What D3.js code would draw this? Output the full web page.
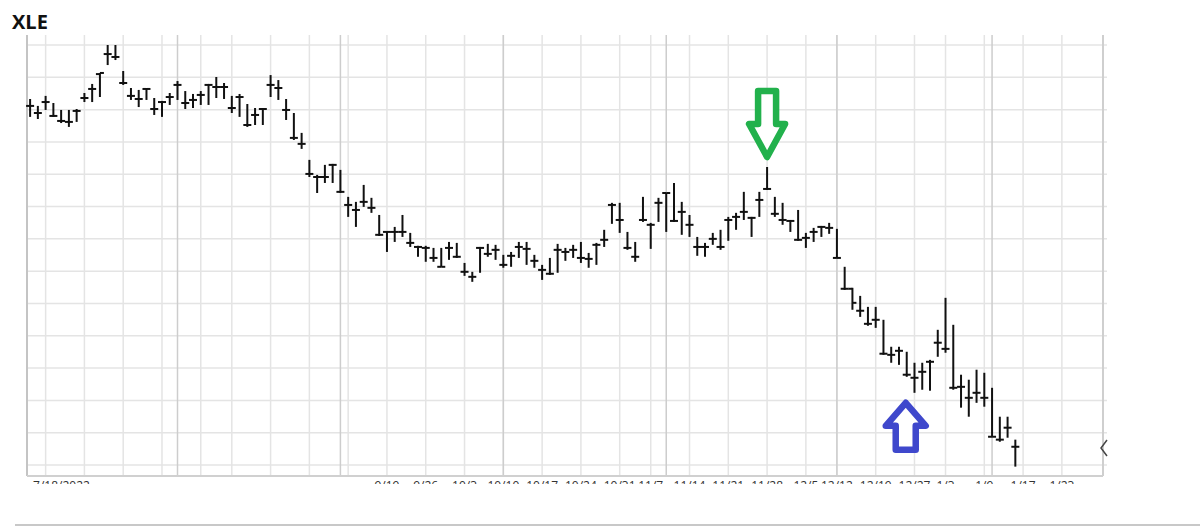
<!DOCTYPE html>
<html lang="en">
<head>
<meta charset="UTF-8">
<title>XLE</title>
<script src="https://d3js.org/d3.v7.min.js"></script>
<style>
  body { margin: 0; background: #fff; }
  svg { display: block; }
</style>
</head>
<body>
<svg width="1200" height="527"></svg>
<script>
// daily OHLC bars
var highs = [90.66, 90.23, 90.85, 90.41, 89.98, 89.98, 90.04, 91.03, 91.59, 92.27,
  94.00, 94.00, 92.39, 91.34, 91.22, 91.34, 90.72, 90.54, 91.03, 91.77,
  91.15, 90.97, 91.15, 91.59, 92.02, 91.65, 90.85, 90.97, 90.35, 90.10,
  90.10, 92.14, 91.83, 90.66, 89.79, 88.56, 86.89, 85.96, 86.58, 86.64,
  86.27, 84.60, 84.29, 85.34, 84.54, 83.48, 82.43, 82.74, 83.48, 82.37,
  81.57, 81.57, 81.44, 81.44, 81.81, 81.75, 80.51, 79.96, 81.50, 81.69,
  81.63, 81.01, 81.19, 81.81, 81.81, 81.01, 80.39, 80.82, 81.69, 81.44,
  81.63, 81.81, 81.13, 81.75, 82.56, 84.23, 84.23, 82.43, 81.81, 84.60,
  82.99, 84.54, 84.84, 85.46, 84.29, 83.48, 82.12, 81.75, 82.37, 82.56,
  83.36, 83.61, 84.91, 83.36, 84.91, 86.45, 84.60, 84.23, 83.17, 83.79,
  82.37, 82.68, 82.80, 82.99, 82.62, 80.27, 78.97, 78.47, 77.79, 77.79,
  76.99, 75.32, 75.32, 75.01, 74.33, 74.33, 74.51, 76.37, 78.35, 76.68,
  73.59, 73.28, 73.90, 73.71, 72.78, 70.99, 70.99, 69.57];
var lows = [89.55, 89.42, 89.98, 89.55, 89.17, 88.93, 89.24, 90.47, 90.47, 90.78,
  92.76, 93.07, 91.53, 90.60, 90.16, 90.60, 89.67, 89.55, 90.29, 90.60,
  90.04, 90.10, 90.29, 90.29, 90.72, 90.66, 89.79, 89.55, 88.93, 89.05,
  89.05, 90.78, 90.60, 89.36, 88.12, 87.57, 85.83, 84.84, 85.46, 85.46,
  84.84, 83.36, 82.74, 83.98, 83.61, 82.18, 81.19, 81.81, 82.12, 81.50,
  80.89, 80.58, 80.58, 80.27, 80.70, 80.82, 79.71, 79.34, 79.90, 80.89,
  80.70, 80.21, 80.27, 80.82, 80.39, 80.21, 79.46, 79.77, 79.90, 80.64,
  80.82, 80.51, 80.21, 80.39, 81.50, 82.93, 82.37, 81.32, 80.58, 83.05,
  81.38, 83.05, 82.43, 83.05, 82.25, 82.12, 80.95, 80.89, 81.63, 81.32,
  81.88, 82.56, 83.17, 82.12, 83.36, 85.03, 83.36, 82.87, 82.43, 81.88,
  81.44, 81.81, 82.12, 82.31, 80.82, 78.84, 77.61, 77.17, 76.62, 76.49,
  74.82, 74.33, 74.20, 73.46, 72.47, 72.66, 72.60, 74.70, 74.95, 72.66,
  71.55, 70.99, 71.85, 71.61, 69.75, 69.44, 69.69, 67.90];
var opens = [90.23, 89.79, 90.47, 89.61, 89.30, 89.24, 89.92, 90.72, 91.28, 92.20,
  93.44, 93.26, 91.65, 90.85, 90.66, 91.28, 90.04, 90.47, 90.78, 91.53,
  90.41, 90.60, 90.91, 91.53, 91.40, 91.40, 90.10, 90.78, 89.05, 89.67,
  90.04, 91.53, 91.34, 89.98, 88.25, 87.88, 86.02, 85.83, 85.83, 86.58,
  84.91, 84.10, 83.79, 84.29, 83.92, 82.25, 82.43, 82.43, 82.43, 81.75,
  81.50, 81.44, 80.82, 80.27, 81.44, 80.89, 79.96, 79.65, 81.44, 81.07,
  81.32, 80.39, 80.95, 81.50, 81.38, 80.64, 80.08, 79.84, 81.32, 81.19,
  81.32, 80.82, 80.76, 81.63, 81.94, 84.10, 83.17, 81.44, 80.89, 83.17,
  82.87, 84.23, 84.84, 83.11, 83.67, 82.87, 81.50, 81.50, 82.00, 81.50,
  83.17, 83.36, 83.67, 83.30, 84.41, 85.09, 83.55, 83.17, 83.11, 81.94,
  82.06, 82.43, 82.74, 82.68, 80.82, 78.91, 78.91, 77.55, 76.74, 76.99,
  74.89, 74.82, 75.07, 73.59, 73.40, 73.77, 74.39, 75.57, 75.19, 72.78,
  72.84, 72.16, 72.47, 72.16, 69.75, 69.57, 70.31, 69.13];
var closes = [90.23, 89.79, 90.47, 89.61, 89.30, 89.24, 89.92, 90.72, 91.28, 92.27,
  93.44, 93.26, 91.65, 90.85, 90.66, 91.28, 90.04, 90.47, 90.78, 91.53,
  90.41, 90.60, 90.91, 91.53, 91.40, 91.40, 90.10, 90.78, 89.05, 89.67,
  90.04, 91.53, 91.34, 89.98, 88.25, 87.88, 86.02, 85.83, 85.83, 86.58,
  84.91, 84.10, 83.79, 84.29, 83.92, 82.25, 82.43, 82.43, 82.43, 81.75,
  81.50, 81.44, 80.82, 80.27, 81.44, 80.89, 79.96, 79.65, 81.44, 81.07,
  81.32, 80.39, 80.95, 81.50, 81.38, 80.64, 80.08, 79.84, 81.32, 81.19,
  81.32, 80.82, 80.76, 81.63, 81.94, 84.10, 83.17, 81.44, 80.89, 83.17,
  82.87, 84.23, 84.84, 83.11, 83.67, 82.87, 81.50, 81.50, 82.00, 81.50,
  83.17, 83.36, 83.67, 83.30, 84.41, 85.09, 83.55, 83.17, 83.11, 81.94,
  82.06, 82.43, 82.74, 82.68, 80.82, 78.91, 78.04, 77.55, 76.74, 76.99,
  74.89, 74.82, 75.07, 73.59, 73.40, 73.77, 74.39, 75.57, 75.19, 72.78,
  72.84, 72.16, 72.47, 72.16, 69.75, 69.57, 70.31, 69.13];

// grid: price lines, weekly lines, darker month lines (bar index)
var priceTicks = d3.range(68, 95, 2);
var weekLines = [2, 7, 12, 17, 22, 26, 31, 36, 41, 46, 51, 56, 61, 66, 71, 76, 80,
  85, 90, 95, 100, 104, 109, 114, 118, 123, 128, 133];
var monthLines = [19, 40, 61, 82, 104, 124];

// date labels under the plot (cut off in the screenshot)
var labelBars = [0, 46, 51, 56, 61, 66, 71, 76, 80, 85, 90, 95, 100, 104, 109, 114, 118, 123, 128, 133];
var labelText = ["7/18/2022", "9/19", "9/26", "10/3", "10/10", "10/17", "10/24",
  "10/31", "11/7", "11/14", "11/21", "11/28", "12/5", "12/12", "12/19",
  "12/27", "1/3", "1/9", "1/17", "1/23"];

var data = highs.map(function (h, i) {
  return { i: i, high: h, low: lows[i], open: opens[i], close: closes[i] };
});

var svg = d3.select("svg");

var plotLeft = 27, plotRight = 1103, plotTop = 35, plotBottom = 476;
var x = d3.scaleLinear().domain([-0.4, 138.3]).range([plotLeft, plotRight]);
var y = d3.scaleLinear().domain([67.32, 94.62]).range([plotBottom, plotTop]);

svg.append("rect").attr("width", 1200).attr("height", 527).attr("fill", "#fff");

// title
svg.append("text")
  .attr("x", 12).attr("y", 29)
  .attr("font-family", "'Open Sans', 'Noto Sans', sans-serif")
  .attr("font-weight", "bold")
  .attr("font-size", "20px")
  .attr("fill", "#111")
  .text("XLE");

// horizontal grid
var grid = svg.append("g");
grid.selectAll(".hline")
  .data(priceTicks)
  .enter().append("line")
  .attr("x1", plotLeft).attr("x2", plotRight + 4)
  .attr("y1", function (d) { return y(d); })
  .attr("y2", function (d) { return y(d); })
  .attr("stroke", "#e4e4e4")
  .attr("stroke-width", 1.5);

// weekly grid
grid.selectAll(".wline")
  .data(weekLines)
  .enter().append("line")
  .attr("x1", function (d) { return x(d); })
  .attr("x2", function (d) { return x(d); })
  .attr("y1", plotTop).attr("y2", plotBottom)
  .attr("stroke", "#e4e4e4")
  .attr("stroke-width", 1.5);

// month grid
grid.selectAll(".mline")
  .data(monthLines)
  .enter().append("line")
  .attr("x1", function (d) { return x(d); })
  .attr("x2", function (d) { return x(d); })
  .attr("y1", plotTop).attr("y2", plotBottom)
  .attr("stroke", "#cdcdcd")
  .attr("stroke-width", 1.5);

// frame
svg.append("line").attr("x1", plotLeft).attr("x2", plotLeft).attr("y1", plotTop).attr("y2", plotBottom)
  .attr("stroke", "#c4c4c4").attr("stroke-width", 2);
svg.append("line").attr("x1", plotRight).attr("x2", plotRight).attr("y1", plotTop).attr("y2", plotBottom)
  .attr("stroke", "#cfcfcf").attr("stroke-width", 2);
svg.append("line").attr("x1", plotLeft).attr("x2", plotRight).attr("y1", plotBottom).attr("y2", plotBottom)
  .attr("stroke", "#d0d0d0").attr("stroke-width", 2);

// bars
var bars = svg.append("g")
  .attr("stroke", "#111")
  .attr("stroke-width", 2)
  .selectAll("g")
  .data(data)
  .enter().append("g");

bars.append("line")
  .attr("x1", function (d) { return x(d.i); })
  .attr("x2", function (d) { return x(d.i); })
  .attr("y1", function (d) { return y(d.high); })
  .attr("y2", function (d) { return y(d.low); });

bars.append("line")
  .attr("x1", function (d) { return x(d.i) - 4; })
  .attr("x2", function (d) { return x(d.i); })
  .attr("y1", function (d) { return y(d.open); })
  .attr("y2", function (d) { return y(d.open); });

bars.append("line")
  .attr("x1", function (d) { return x(d.i); })
  .attr("x2", function (d) { return x(d.i) + 4; })
  .attr("y1", function (d) { return y(d.close); })
  .attr("y2", function (d) { return y(d.close); });

// date labels, cut off by the screenshot edge
svg.append("clipPath").attr("id", "cut")
  .append("rect").attr("x", 0).attr("y", 478).attr("width", 1200).attr("height", 6);

svg.append("g")
  .attr("clip-path", "url(#cut)")
  .selectAll("text")
  .data(labelBars)
  .enter().append("text")
  .attr("x", function (d, i) { return i == 0 ? x(d) + 3 : x(d); })
  .attr("y", 490)
  .attr("text-anchor", function (d, i) { return i == 0 ? "start" : "middle"; })
  .attr("font-family", "'Open Sans', sans-serif")
  .attr("font-size", "12px")
  .attr("fill", "#333")
  .text(function (d, i) { return labelText[i]; });

// green arrow over the peak bar, blue arrow under the low
var top95 = { x: x(95), y: y(highs[95]) - 10 };
svg.append("path")
  .attr("d", "M" + (top95.x - 9) + "," + (top95.y - 66) +
    " L" + (top95.x + 9) + "," + (top95.y - 66) +
    " L" + (top95.x + 9) + "," + (top95.y - 33) +
    " L" + (top95.x + 18) + "," + (top95.y - 33) +
    " L" + top95.x + "," + top95.y +
    " L" + (top95.x - 18) + "," + (top95.y - 33) +
    " L" + (top95.x - 9) + "," + (top95.y - 33) + " Z")
  .attr("fill", "#fff")
  .attr("stroke", "#22b14c")
  .attr("stroke-width", 6.5)
  .attr("stroke-linejoin", "round");

var low113 = { x: x(113) - 1, y: y(lows[113]) + 26 };
svg.append("path")
  .attr("d", "M" + low113.x + "," + low113.y +
    " L" + (low113.x + 20) + "," + (low113.y + 23) +
    " L" + (low113.x + 10) + "," + (low113.y + 23) +
    " L" + (low113.x + 10) + "," + (low113.y + 47) +
    " L" + (low113.x - 10) + "," + (low113.y + 47) +
    " L" + (low113.x - 10) + "," + (low113.y + 23) +
    " L" + (low113.x - 20) + "," + (low113.y + 23) + " Z")
  .attr("fill", "#fff")
  .attr("stroke", "#3f48cc")
  .attr("stroke-width", 6.5)
  .attr("stroke-linejoin", "round");

// scroll chevron at the right edge
svg.append("path")
  .attr("d", "M1107,440 L1101,448 L1107,456")
  .attr("fill", "none")
  .attr("stroke", "#444")
  .attr("stroke-width", 1.5);

// separator line at the bottom
svg.append("line")
  .attr("x1", 15).attr("x2", 1200).attr("y1", 525).attr("y2", 525)
  .attr("stroke", "#c8c8c8").attr("stroke-width", 2);
</script>
</body>
</html>
